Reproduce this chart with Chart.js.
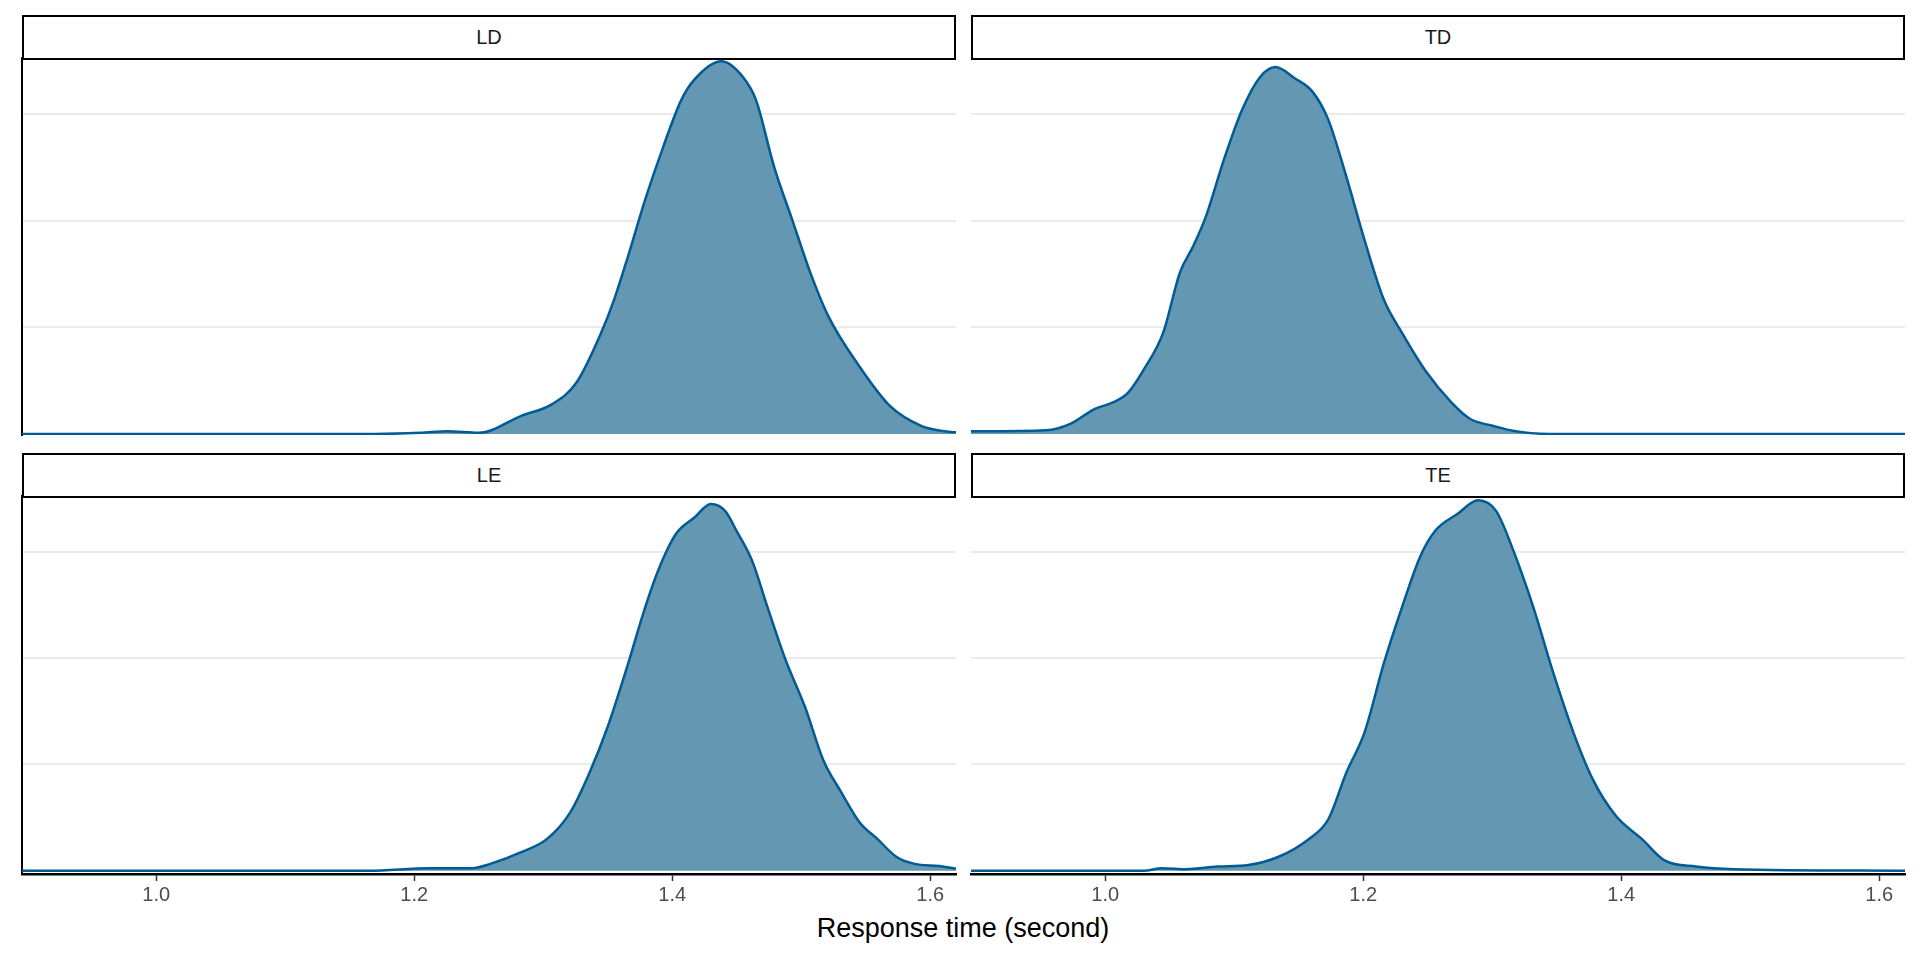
<!DOCTYPE html>
<html>
<head>
<meta charset="utf-8">
<script src="https://cdn.jsdelivr.net/npm/chart.js@4"></script>
<style>
  html, body { margin: 0; padding: 0; background: #fff; }
  #page { position: relative; width: 1920px; height: 960px; font-family: "Liberation Sans", Arial, sans-serif; }
  .strip { position: absolute; box-sizing: border-box; border: 2px solid #000; background: #fff; color: #1a1a1a;
           font-size: 20px; display: flex; align-items: center; justify-content: center; }
  canvas { position: absolute; }
  #xtitle { position: absolute; left: 0; width: 1926px; top: 915px; line-height: 1; text-align: center; font-size: 27px; color: #000; }
</style>
</head>
<body>
<div id="page">
  <div id="xtitle">Response time (second)</div>
</div>
<script>
// facet order: top row then bottom row
const panels = ['LD', 'TD', 'LE', 'TE'];
const xTicks = [1.0, 1.2, 1.4, 1.6];
const gridValues = [2, 4, 6];
const xMin = 0.896, xMax = 1.62;

const ldX = [0.896, 1.17, 1.205, 1.226, 1.25, 1.283, 1.307, 1.326, 1.345, 1.355, 1.365, 1.379, 1.393, 1.407, 1.417, 1.438, 1.455, 1.465, 1.479, 1.493, 1.507, 1.521, 1.545, 1.569, 1.593, 1.608, 1.62];
const ldY = [0, 0, 0.02, 0.05, 0.02, 0.34, 0.56, 0.97, 1.9, 2.52, 3.27, 4.39, 5.38, 6.26, 6.64, 6.99, 6.69, 6.26, 5.01, 4.02, 3.03, 2.21, 1.27, 0.52, 0.15, 0.06, 0.03];

const tdX = [0.896, 0.954, 0.973, 0.992, 1.007, 1.018, 1.030, 1.045, 1.058, 1.068, 1.078, 1.092, 1.106, 1.120, 1.132, 1.147, 1.161, 1.173, 1.187, 1.201, 1.216, 1.230, 1.249, 1.268, 1.283, 1.301, 1.316, 1.344, 1.62];
const tdY = [0.05, 0.07, 0.19, 0.47, 0.6, 0.78, 1.21, 1.9, 3.03, 3.51, 4.07, 5.14, 6.07, 6.69, 6.88, 6.67, 6.41, 5.89, 4.82, 3.64, 2.52, 1.9, 1.16, 0.6, 0.28, 0.15, 0.06, 0, 0];

const leX = [0.896, 1.165, 1.212, 1.245, 1.259, 1.283, 1.303, 1.321, 1.336, 1.350, 1.365, 1.379, 1.390, 1.403, 1.417, 1.430, 1.441, 1.450, 1.462, 1.474, 1.488, 1.503, 1.517, 1.531, 1.545, 1.559, 1.574, 1.588, 1.607, 1.62];
const leY = [0, 0, 0.05, 0.05, 0.13, 0.35, 0.6, 1.1, 1.85, 2.71, 3.83, 4.95, 5.7, 6.34, 6.64, 6.9, 6.77, 6.39, 5.83, 4.95, 3.96, 3.08, 2.09, 1.48, 0.92, 0.6, 0.26, 0.13, 0.09, 0.04];

const teX = [0.896, 1.030, 1.044, 1.063, 1.087, 1.111, 1.134, 1.158, 1.173, 1.187, 1.201, 1.216, 1.230, 1.244, 1.256, 1.273, 1.289, 1.303, 1.316, 1.332, 1.347, 1.363, 1.378, 1.396, 1.416, 1.434, 1.458, 1.487, 1.62];
const teY = [0, 0, 0.05, 0.03, 0.08, 0.11, 0.26, 0.6, 0.97, 1.85, 2.6, 3.9, 4.95, 5.9, 6.4, 6.71, 6.97, 6.77, 6.05, 4.95, 3.75, 2.6, 1.72, 1.03, 0.6, 0.19, 0.08, 0.03, 0];

const seriesX = [ldX, tdX, leX, teX];
const seriesY = [ldY, tdY, leY, teY];

const lineColor = '#005b96';
const fillColor = '#6497b1';
const colLeft = [22, 971];
const panelW = 934;
const rows = [{ top: 58, bottom: 435, yMin: -0.02 }, { top: 496, bottom: 874, yMin: -0.06 }];
const yMax = 7.05;
const pad = 10, axisH = 46;

const page = document.getElementById('page');

panels.forEach((name, i) => {
  const col = i % 2, row = Math.floor(i / 2);
  const r = rows[row];
  const isBottom = row === 1;
  const panelH = r.bottom - r.top;

  // strip label
  const strip = document.createElement('div');
  strip.className = 'strip';
  strip.style.left = colLeft[col] + 'px';
  strip.style.top = (r.top - 43) + 'px';
  strip.style.width = panelW + 'px';
  strip.style.height = '45px';
  strip.textContent = name;
  page.appendChild(strip);

  const canvas = document.createElement('canvas');
  const cw = panelW + 2 * pad;
  const ch = panelH + pad + (isBottom ? axisH : pad);
  canvas.width = cw; canvas.height = ch;
  canvas.style.width = cw + 'px'; canvas.style.height = ch + 'px';
  canvas.style.left = (colLeft[col] - pad) + 'px';
  canvas.style.top = (r.top - pad) + 'px';
  page.appendChild(canvas);

  const pts = seriesX[i].map((x, k) => ({ x: x, y: seriesY[i][k] }));

  new Chart(canvas, {
    type: 'line',
    data: {
      datasets: [{
        label: name,
        data: pts,
        borderColor: lineColor,
        backgroundColor: fillColor,
        borderWidth: 2.5,
        fill: 'origin',
        pointRadius: 0,
        cubicInterpolationMode: 'monotone'
      }]
    },
    options: {
      responsive: false,
      animation: false,
      events: [],
      layout: { padding: { left: pad, right: pad, top: pad, bottom: isBottom ? 0 : pad } },
      plugins: { legend: { display: false }, tooltip: { enabled: false } },
      scales: {
        x: {
          type: 'linear',
          min: xMin,
          max: xMax,
          display: isBottom,
          afterBuildTicks: s => { s.ticks = xTicks.map(v => ({ value: v })); },
          afterFit: s => { s.height = isBottom ? axisH : 0; },
          grid: { drawOnChartArea: false, drawTicks: true, tickLength: 7, tickColor: '#333333', tickWidth: 1.5 },
          border: { display: true, color: '#000', width: 2.5 },
          ticks: {
            color: '#4d4d4d',
            font: { family: 'Liberation Sans', size: 20 },
            padding: 2,
            maxRotation: 0,
            autoSkip: false,
            callback: v => v.toFixed(1)
          }
        },
        y: {
          min: r.yMin,
          max: yMax,
          afterBuildTicks: s => { s.ticks = gridValues.map(v => ({ value: v })); },
          afterFit: s => { s.width = 0; },
          grid: { color: '#ebebeb', lineWidth: 2, drawTicks: false },
          border: { display: col === 0, color: '#000', width: 2 },
          ticks: { display: false }
        }
      }
    }
  });
});
</script>
</body>
</html>
